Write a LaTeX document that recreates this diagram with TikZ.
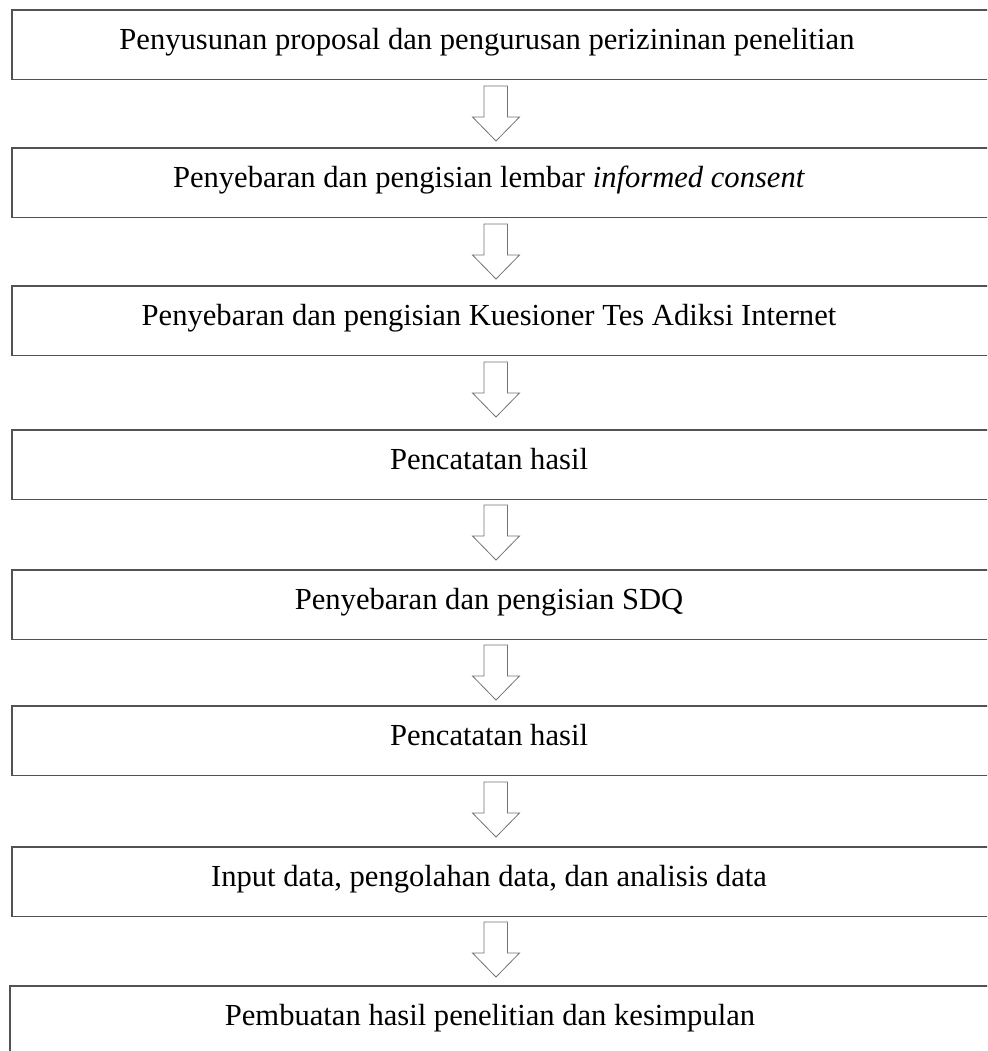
\documentclass[tikz,border=0pt]{standalone}
\usepackage{fontspec}
\setmainfont{Liberation Serif}
\begin{document}
\begin{tikzpicture}[x=1pt,y=-1pt,
  boxline/.style={draw=black!68,line width=1.2pt},
  steptext/.style={anchor=base,inner sep=0pt,font=\fontsize{30.6}{36}\selectfont},
  blockarrow/.style={draw=black!55,line width=0.8pt,fill=white,line join=miter}]
\useasboundingbox (0,0) rectangle (987,1051);
\clip (0,0) rectangle (987,1051);
% boxes: left x, top y
\foreach \i/\lx/\t in {1/12/10,2/12/148,3/12/286,4/12/430,5/12/570,6/12/706,7/12/847,8/10/986}{
  \draw[boxline] (1000,\t) -- (\lx,\t) -- (\lx,\t+69.5) -- (1000,\t+69.5);
}
\node[steptext] (s1) at (487,49.5) {Penyusunan proposal dan pengurusan perizininan penelitian};
\node[steptext] (s2) at (489,187.5) {Penyebaran dan pengisian lembar \textit{informed consent}};
\node[steptext] (s3) at (489,325.5) {Penyebaran dan pengisian Kuesioner Tes Adiksi Internet};
\node[steptext] (s4) at (489,469.5) {Pencatatan hasil};
\node[steptext] (s5) at (489,609.5) {Penyebaran dan pengisian SDQ};
\node[steptext] (s6) at (489,745.5) {Pencatatan hasil};
\node[steptext] (s7) at (489,886.5) {Input data, pengolahan data, dan analisis data};
\node[steptext] (s8) at (490,1025.5) {Pembuatan hasil penelitian dan kesimpulan};
% block arrows
\foreach \a in {86,224,362,505,645,782,922}{
  \draw[blockarrow] (484,\a) -- (507.5,\a) -- (507.5,\a+31) -- (519.5,\a+31)
    -- (496,\a+55) -- (472.5,\a+31) -- (484,\a+31) -- cycle;
}
\end{tikzpicture}
\end{document}
